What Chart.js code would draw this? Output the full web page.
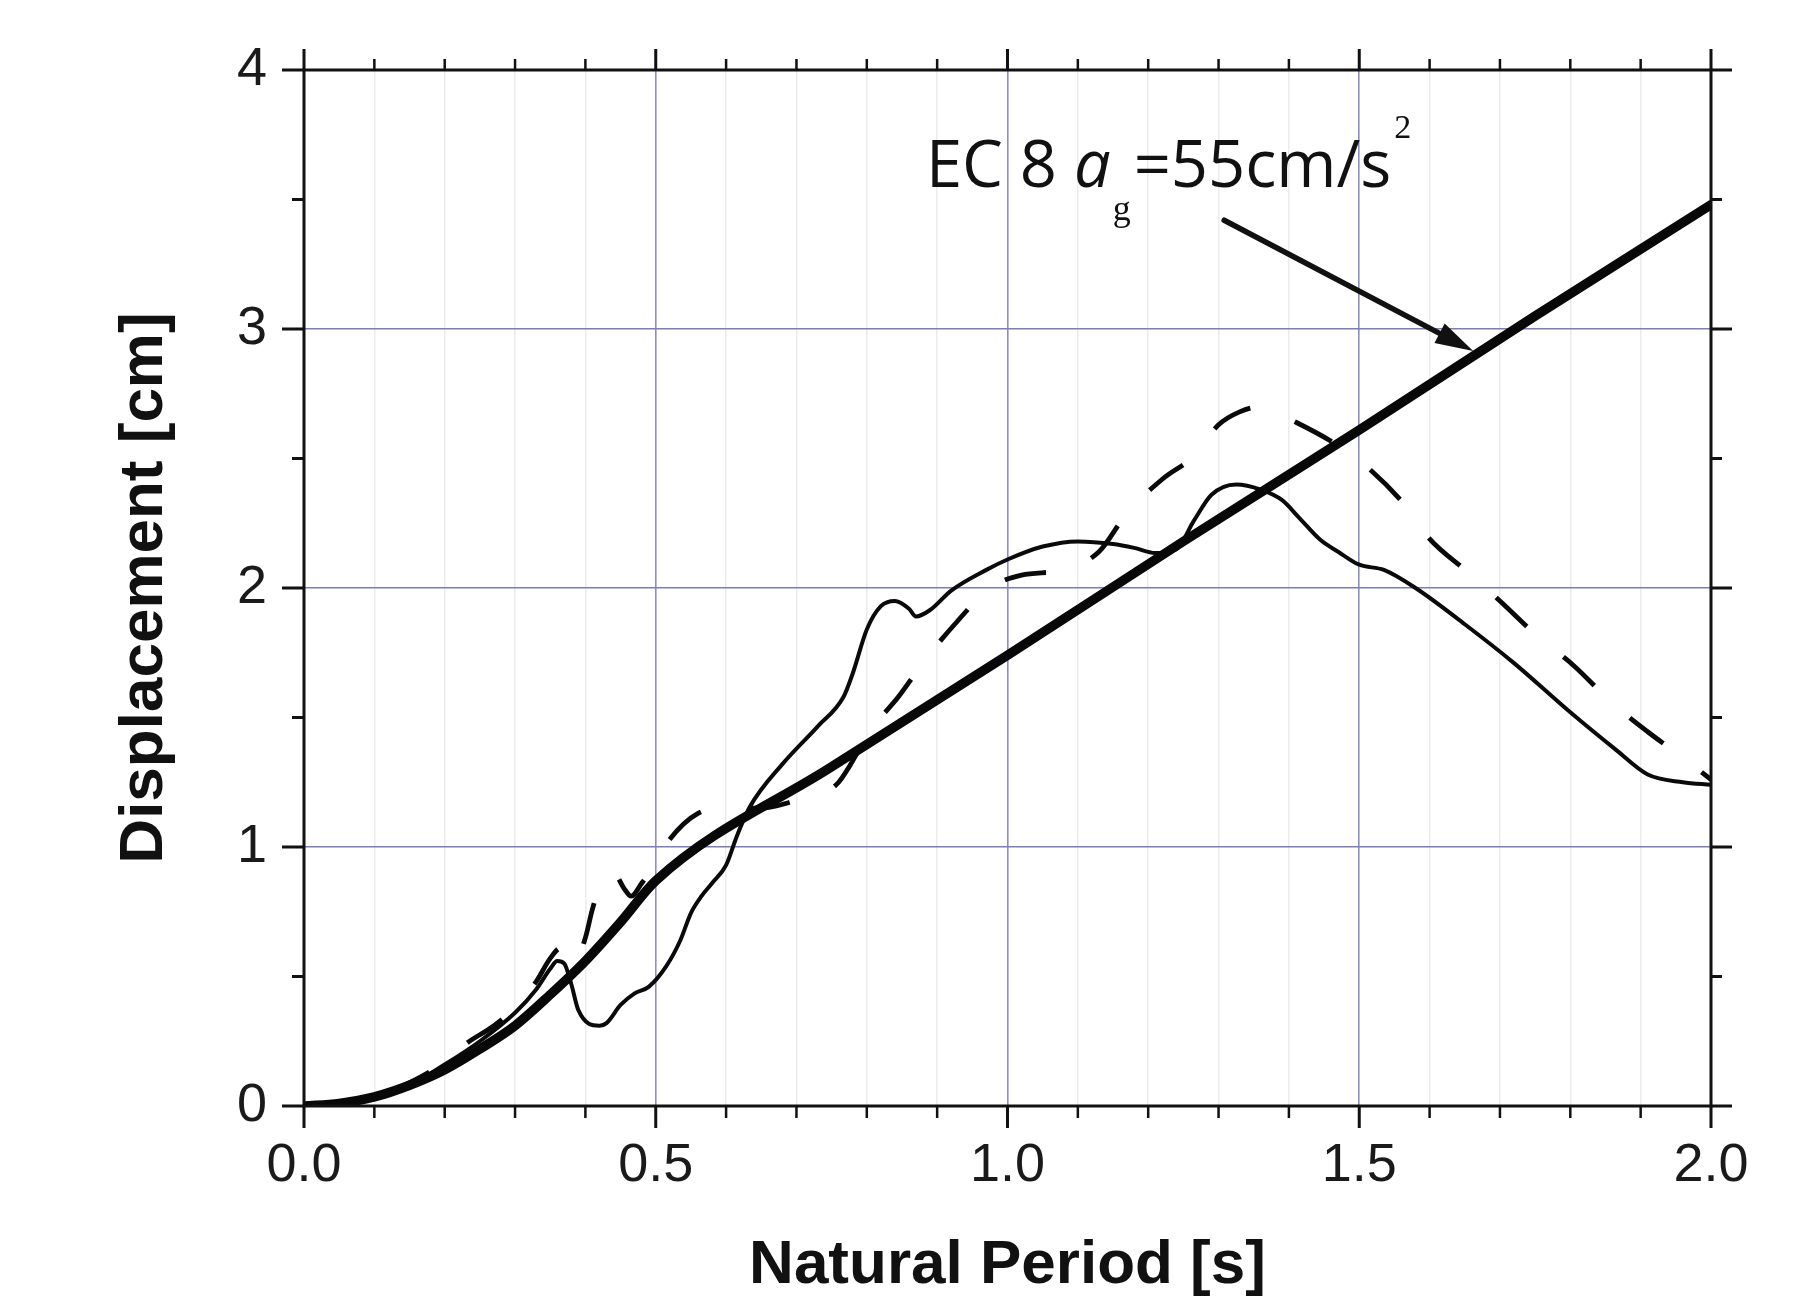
<!DOCTYPE html>
<html>
<head>
<meta charset="utf-8">
<script src="https://cdn.jsdelivr.net/npm/chart.js@4.4.1/dist/chart.umd.min.js"></script>
<style>
  html, body { margin: 0; padding: 0; background: #ffffff; }
  canvas { display: block; }
</style>
</head>
<body>
<canvas id="c" width="1793" height="1297"></canvas>
<script>
// ---- data ----
const xTickLabels = ['0.0', '0.5', '1.0', '1.5', '2.0'];
const yTickLabels = ['0', '1', '2', '3', '4'];

// EC 8 elastic displacement spectrum (thick line)
const periodsEC8 = [0, 0.05, 0.1, 0.15, 0.2, 0.25, 0.3, 0.35, 0.4, 0.45, 0.5, 0.75, 1.0, 1.25, 1.5, 1.75, 2.0];
const dispEC8    = [0, 0.01, 0.035, 0.08, 0.14, 0.22, 0.31, 0.43, 0.56, 0.71, 0.87, 1.31, 1.74, 2.18, 2.61, 3.05, 3.48];

// record 1 (thin solid line)
const periodsSolid = [0, 0.05, 0.1, 0.15, 0.2, 0.25, 0.3, 0.33, 0.35, 0.36, 0.37, 0.38, 0.39, 0.42, 0.43, 0.45, 0.47, 0.49,
  0.515, 0.535, 0.55, 0.565, 0.58, 0.6, 0.615, 0.634, 0.68, 0.73, 0.767, 0.78, 0.8, 0.82, 0.84, 0.86, 0.87, 0.89,
  0.92, 0.97, 1.0, 1.05, 1.1, 1.15, 1.18, 1.21, 1.24, 1.265, 1.29, 1.325, 1.36, 1.39, 1.415, 1.445, 1.47, 1.5,
  1.535, 1.58, 1.65, 1.72, 1.8, 1.865, 1.91, 1.96, 2.0];
const dispSolid = [0, 0.005, 0.03, 0.08, 0.16, 0.25, 0.36, 0.45, 0.53, 0.56, 0.55, 0.47, 0.37, 0.31, 0.32, 0.39, 0.435, 0.46,
  0.54, 0.64, 0.745, 0.81, 0.86, 0.93, 1.04, 1.156, 1.32, 1.465, 1.58, 1.67, 1.84, 1.93, 1.95, 1.92, 1.89, 1.915,
  1.99, 2.07, 2.11, 2.16, 2.18, 2.17, 2.155, 2.135, 2.15, 2.26, 2.36, 2.40, 2.38, 2.34, 2.27, 2.185, 2.14, 2.09,
  2.07, 2.0, 1.86, 1.71, 1.52, 1.375, 1.28, 1.25, 1.24];

// record 2 (dashed line)
const periodsDashed = [0, 0.05, 0.1, 0.15, 0.2, 0.23, 0.27, 0.3, 0.33, 0.35, 0.365, 0.375, 0.385, 0.4, 0.41, 0.425, 0.44,
  0.455, 0.465, 0.48, 0.5, 0.52, 0.56, 0.6, 0.65, 0.7, 0.74, 0.76, 0.775, 0.805, 0.845, 0.885, 0.925, 0.975, 1.02,
  1.08, 1.13, 1.17, 1.22, 1.265, 1.3, 1.33, 1.36, 1.41, 1.47, 1.51, 1.565, 1.6, 1.655, 1.7, 1.755, 1.805, 1.86,
  1.91, 1.965, 2.0];
const dispDashed = [0, 0.005, 0.03, 0.09, 0.17, 0.24, 0.31, 0.38, 0.48, 0.57, 0.61, 0.6, 0.55, 0.65, 0.76, 0.88, 0.9,
  0.84, 0.81, 0.86, 0.94, 1.03, 1.13, 1.15, 1.15, 1.18, 1.21, 1.25, 1.31, 1.45, 1.58, 1.73, 1.86, 2.0, 2.05,
  2.07, 2.14, 2.29, 2.42, 2.51, 2.63, 2.68, 2.70, 2.64, 2.55, 2.47, 2.32, 2.19, 2.06, 1.95, 1.81, 1.70, 1.555,
  1.445, 1.335, 1.26];

const xTitle = 'Natural Period [s]';
const yTitle = 'Displacement [cm]';

// annotation anchors (data coordinates)
const annotText = { x: 0.884, y: 3.548 };
const arrowFrom = { x: 1.308, y: 3.42 };
const arrowTo   = { x: 1.662, y: 2.915 };

// ---- helpers ----
const toPoints = (xs, ys) => xs.map((x, i) => ({ x: x, y: ys[i] }));

const whiteBg = {
  id: 'whiteBg',
  beforeDraw(chart) {
    const ctx = chart.ctx;
    ctx.save();
    ctx.fillStyle = '#ffffff';
    ctx.fillRect(0, 0, chart.width, chart.height);
    ctx.restore();
  }
};

const frameTicks = {
  id: 'frameTicks',
  afterDraw(chart) {
    const ctx = chart.ctx;
    const a = chart.chartArea;
    const xs = chart.scales.x, ys = chart.scales.y;
    ctx.save();
    ctx.strokeStyle = '#111111';
    ctx.lineCap = 'butt';
    ctx.lineWidth = 3;
    ctx.strokeRect(a.left, a.top, a.right - a.left, a.bottom - a.top);
    for (let i = 0; i <= 20; i++) {
      const px = xs.getPixelForValue(i / 10);
      const major = i % 5 === 0;
      ctx.lineWidth = major ? 3 : 2.5;
      ctx.beginPath();
      ctx.moveTo(px, a.bottom);
      ctx.lineTo(px, a.bottom + (major ? 22 : 12));
      ctx.moveTo(px, a.top);
      ctx.lineTo(px, a.top - (major ? 21 : 11));
      ctx.stroke();
    }
    for (let i = 0; i <= 8; i++) {
      const py = ys.getPixelForValue(i / 2);
      const major = i % 2 === 0;
      ctx.lineWidth = 3;
      ctx.beginPath();
      ctx.moveTo(a.left, py);
      ctx.lineTo(a.left - (major ? 22 : 12), py);
      ctx.moveTo(a.right, py);
      ctx.lineTo(a.right + (major ? 21 : 11), py);
      ctx.stroke();
    }
    ctx.restore();
  }
};

const annotation = {
  id: 'annotation',
  afterDatasetsDraw(chart) {
    const ctx = chart.ctx;
    const xs = chart.scales.x, ys = chart.scales.y;
    ctx.save();
    ctx.fillStyle = '#111111';
    ctx.textBaseline = 'alphabetic';
    ctx.textAlign = 'left';
    let x = xs.getPixelForValue(annotText.x);
    const y = ys.getPixelForValue(annotText.y);
    const mainFont = '65px "Open Sans", "Liberation Sans", sans-serif';
    ctx.font = mainFont;
    ctx.fillText('EC 8 ', x, y);
    x += ctx.measureText('EC 8 ').width;
    ctx.font = 'italic 65px "Open Sans", "Liberation Sans", sans-serif';
    ctx.fillText('a', x, y);
    x += ctx.measureText('a').width + 2;
    ctx.font = '36px "Liberation Serif", "DejaVu Serif", serif';
    ctx.fillText('g', x, y + 33);
    x += ctx.measureText('g').width + 3;
    ctx.font = mainFont;
    ctx.fillText('=55cm/s', x, y);
    x += ctx.measureText('=55cm/s').width + 3;
    ctx.font = '34px "Liberation Serif", "DejaVu Serif", serif';
    ctx.fillText('2', x, y - 49);

    const x1 = xs.getPixelForValue(arrowFrom.x), y1 = ys.getPixelForValue(arrowFrom.y);
    const x2 = xs.getPixelForValue(arrowTo.x),   y2 = ys.getPixelForValue(arrowTo.y);
    const ang = Math.atan2(y2 - y1, x2 - x1);
    const headLen = 38, headHalf = 11;
    const bx = x2 - headLen * Math.cos(ang), by = y2 - headLen * Math.sin(ang);
    ctx.strokeStyle = '#111111';
    ctx.lineWidth = 5.5;
    ctx.lineCap = 'round';
    ctx.beginPath();
    ctx.moveTo(x1, y1);
    ctx.lineTo(bx, by);
    ctx.stroke();
    ctx.beginPath();
    ctx.moveTo(x2, y2);
    ctx.lineTo(bx + headHalf * Math.sin(ang), by - headHalf * Math.cos(ang));
    ctx.lineTo(bx - headHalf * Math.sin(ang), by + headHalf * Math.cos(ang));
    ctx.closePath();
    ctx.fill();
    ctx.restore();
  }
};

const tickFont = { family: '"Liberation Sans", Arial, sans-serif', size: 54, weight: 'normal' };
const titleFont = { family: '"Liberation Sans", Arial, sans-serif', size: 62, weight: 'bold', lineHeight: 1 };

new Chart(document.getElementById('c'), {
  type: 'line',
  data: {
    datasets: [
      {
        label: 'EC 8',
        data: toPoints(periodsEC8, dispEC8),
        borderColor: '#080808',
        borderWidth: 9.5,
        pointRadius: 0,
        fill: false,
        cubicInterpolationMode: 'monotone',
        borderCapStyle: 'round',
        borderJoinStyle: 'round'
      },
      {
        label: 'Record 1',
        data: toPoints(periodsSolid, dispSolid),
        borderColor: '#0a0a0a',
        borderWidth: 4,
        pointRadius: 0,
        fill: false,
        cubicInterpolationMode: 'monotone',
        borderJoinStyle: 'round'
      },
      {
        label: 'Record 2',
        data: toPoints(periodsDashed, dispDashed),
        borderColor: '#0a0a0a',
        borderWidth: 4.8,
        borderDash: [42, 48],
        pointRadius: 0,
        fill: false,
        cubicInterpolationMode: 'monotone',
        borderJoinStyle: 'round'
      }
    ]
  },
  options: {
    responsive: false,
    devicePixelRatio: 1,
    animation: false,
    events: [],
    layout: { padding: { top: 70, right: 82, left: 0, bottom: 0 } },
    plugins: {
      legend: { display: false },
      tooltip: { enabled: false }
    },
    scales: {
      x: {
        type: 'linear',
        min: 0,
        max: 2,
        afterFit: s => { s.height = 191; },
        ticks: {
          stepSize: 0.1,
          autoSkip: false,
          maxRotation: 0,
          padding: 28,
          color: '#1a1a1a',
          font: tickFont,
          callback: v => {
            const k = Math.round(v * 10);
            return k % 5 === 0 ? xTickLabels[k / 5] : '';
          }
        },
        grid: {
          drawTicks: false,
          color: ctx => {
            const k = Math.round(ctx.tick.value * 10);
            if (k === 0 || k === 20) return 'rgba(0,0,0,0)';
            return k % 5 === 0 ? '#8c8cc6' : '#ececf0';
          },
          lineWidth: ctx => {
            const k = Math.round(ctx.tick.value * 10);
            return k % 5 === 0 ? 1.6 : 1.5;
          }
        },
        border: { display: false },
        title: {
          display: true,
          text: xTitle,
          color: '#111111',
          font: titleFont,
          padding: { top: 0, bottom: 0 }
        }
      },
      y: {
        type: 'linear',
        min: 0,
        max: 4,
        afterFit: s => { s.width = 304; },
        ticks: {
          stepSize: 0.5,
          autoSkip: false,
          padding: 37,
          color: '#1a1a1a',
          font: tickFont,
          callback: v => {
            const k = Math.round(v * 2);
            return k % 2 === 0 ? yTickLabels[k / 2] : '';
          }
        },
        grid: {
          drawTicks: false,
          color: ctx => {
            const k = Math.round(ctx.tick.value * 2);
            if (k === 0 || k === 8) return 'rgba(0,0,0,0)';
            return k % 2 === 0 ? '#7c7cbc' : 'rgba(0,0,0,0)';
          },
          lineWidth: 1.6
        },
        border: { display: false },
        title: {
          display: true,
          text: yTitle,
          color: '#111111',
          font: titleFont,
          padding: { top: 114, bottom: 0 }
        }
      }
    }
  },
  plugins: [whiteBg, annotation, frameTicks]
});
</script>
</body>
</html>
